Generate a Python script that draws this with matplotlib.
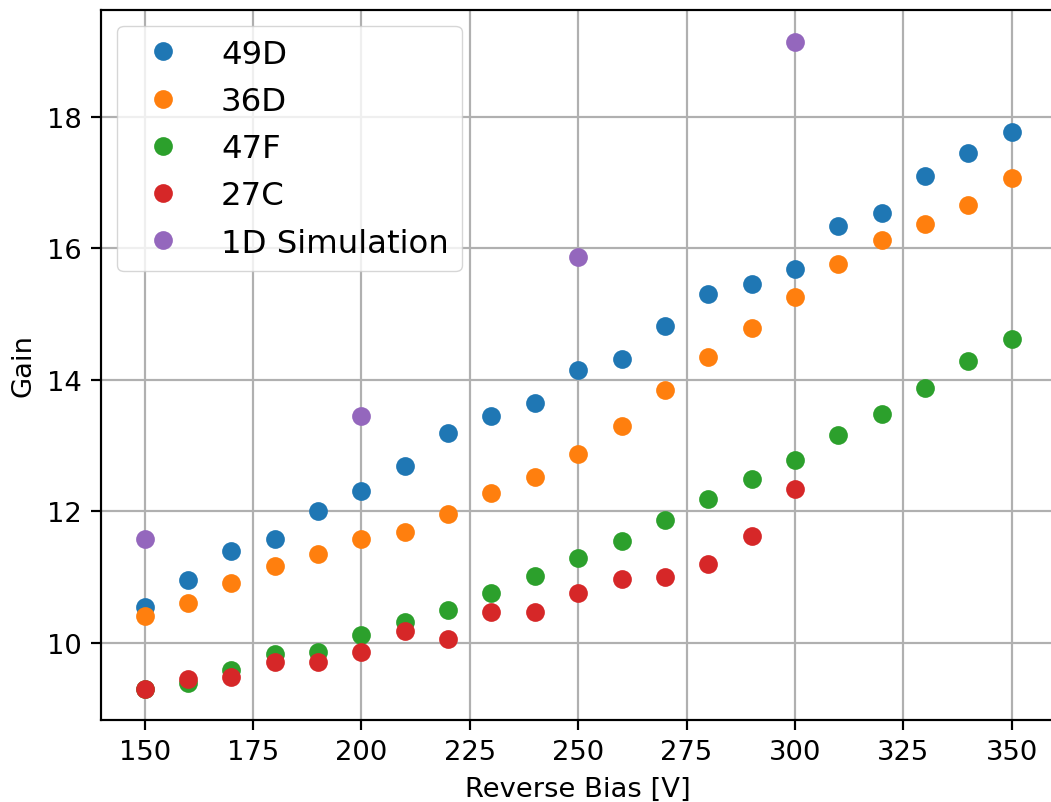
import matplotlib
matplotlib.use("Agg")
import matplotlib.pyplot as plt

# Reverse bias voltages [V]
bias = [150, 160, 170, 180, 190, 200, 210, 220, 230, 240, 250,
        260, 270, 280, 290, 300, 310, 320, 330, 340, 350]

gain_49D = [10.55, 10.96, 11.40, 11.57, 12.01, 12.31, 12.68, 13.19, 13.44, 13.65, 14.15,
            14.32, 14.81, 15.31, 15.46, 15.69, 16.33, 16.54, 17.09, 17.45, 17.77]
gain_36D = [10.40, 10.61, 10.91, 11.16, 11.35, 11.58, 11.69, 11.96, 12.27, 12.52, 12.87,
            13.30, 13.85, 14.35, 14.79, 15.26, 15.76, 16.13, 16.36, 16.66, 17.06]
gain_47F = [9.30, 9.39, 9.59, 9.83, 9.86, 10.12, 10.32, 10.50, 10.75, 11.02, 11.29,
            11.54, 11.87, 12.19, 12.49, 12.78, 13.16, 13.48, 13.88, 14.29, 14.62]

bias_27C = [150, 160, 170, 180, 190, 200, 210, 220, 230, 240, 250,
            260, 270, 280, 290, 300]
gain_27C = [9.30, 9.45, 9.48, 9.71, 9.71, 9.86, 10.18, 10.05, 10.47, 10.47, 10.75,
            10.97, 11.00, 11.20, 11.63, 12.34]

bias_sim = [150, 200, 250, 300]
gain_sim = [11.57, 13.45, 15.86, 19.14]

S = 1.97  # overall scale of fonts and lines
plt.rcParams.update({
    "font.size": 10 * S,
    "axes.linewidth": 0.8 * S,
    "xtick.major.width": 0.8 * S,
    "ytick.major.width": 0.8 * S,
    "xtick.major.size": 3.5 * S,
    "ytick.major.size": 3.5 * S,
    "xtick.major.pad": 3.5 * S,
    "ytick.major.pad": 3.5 * S,
    "grid.linewidth": 0.8 * S,
    "axes.labelpad": 4.0 * S,
})

fig = plt.figure(figsize=(10.51, 8.03), dpi=100)
ax = fig.add_axes([0.0964, 0.1021, 0.9074, 0.8846])

ms = 13.5
series = [
    (bias, gain_49D, "49D"),
    (bias, gain_36D, "36D"),
    (bias, gain_47F, "47F"),
    (bias_27C, gain_27C, "27C"),
    (bias_sim, gain_sim, "1D Simulation"),
]
for i, (x, y, name) in enumerate(series):
    ax.plot(x, y, "o", color=f"C{i}", markersize=ms, markeredgewidth=0,
            label=name, zorder=3)

ax.set_xlim(140, 360)
ax.set_ylim(8.824, 19.627)
ax.set_xticks([150, 175, 200, 225, 250, 275, 300, 325, 350])
ax.set_yticks([10, 12, 14, 16, 18])
ax.grid(True, color="#b0b0b0")
ax.set_axisbelow(True)
ax.set_xlabel("Reverse Bias [V]")
ax.set_ylabel("Gain")
ax.legend(loc="upper left", fontsize=23.3, numpoints=1)

fig.savefig("out.png", dpi=100)
